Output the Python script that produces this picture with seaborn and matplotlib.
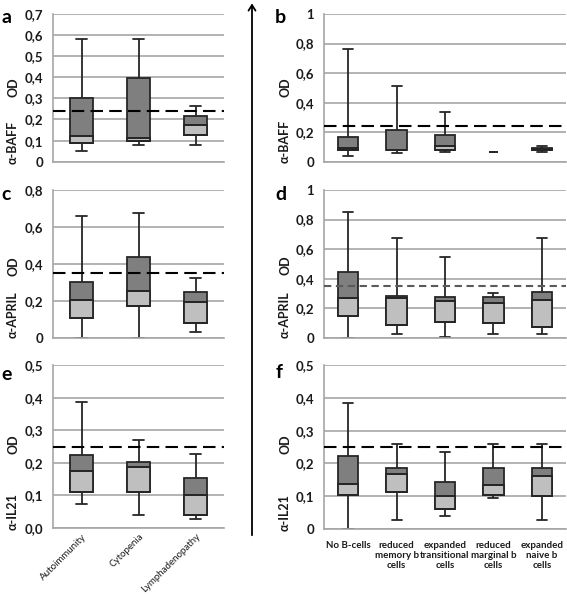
import numpy as np
import pandas as pd
import matplotlib
matplotlib.use("Agg")
import matplotlib.pyplot as plt
from matplotlib.patches import FancyArrowPatch
import seaborn as sns

sns.set_theme(style="white")
plt.rcParams['font.family'] = ['Lato', 'DejaVu Sans']

# ---------------- data ----------------
clinical = ["Autoimmunity", "Cytopenia", "Lymphadenopathy"]
bcell = ["No B-cells", "reduced\nmemory b\ncells", "expanded\ntransitional\ncells",
         "reduced\nmarginal b\ncells", "expanded\nnaive b\ncells"]

# five-number summaries per group: [min, Q1, median, Q3, max]
baff_clinical = [[0.050, 0.088, 0.120, 0.300, 0.580],
                 [0.080, 0.097, 0.114, 0.395, 0.580],
                 [0.080, 0.127, 0.172, 0.218, 0.263]]
baff_bcell = [[0.036, 0.076, 0.095, 0.169, 0.765],
              [0.061, 0.081, 0.081, 0.216, 0.510],
              [0.069, 0.081, 0.107, 0.178, 0.335],
              [0.068, 0.068, 0.068, 0.068, 0.068],
              [0.068, 0.080, 0.085, 0.090, 0.106]]
april_clinical = [[0.000, 0.109, 0.202, 0.301, 0.659],
                  [0.000, 0.172, 0.253, 0.439, 0.673],
                  [0.032, 0.077, 0.193, 0.247, 0.322]]
april_bcell = [[0.000, 0.147, 0.266, 0.442, 0.850],
               [0.025, 0.086, 0.269, 0.282, 0.677],
               [0.007, 0.108, 0.248, 0.273, 0.549],
               [0.025, 0.100, 0.232, 0.275, 0.302],
               [0.025, 0.072, 0.255, 0.311, 0.677]]
il21_clinical = [[0.074, 0.112, 0.176, 0.223, 0.386],
                 [0.041, 0.112, 0.186, 0.202, 0.270],
                 [0.029, 0.040, 0.100, 0.155, 0.227]]
il21_bcell = [[0.000, 0.103, 0.137, 0.223, 0.386],
              [0.027, 0.112, 0.167, 0.186, 0.259],
              [0.040, 0.061, 0.100, 0.142, 0.235],
              [0.094, 0.103, 0.133, 0.186, 0.259],
              [0.027, 0.100, 0.161, 0.186, 0.259]]

cutoff_baff = 0.24
cutoff_april = 0.35
cutoff_il21 = 0.25

ticks_a = ["0", "0,1", "0,2", "0,3", "0,4", "0,5", "0,6", "0,7"]
ticks_bd = ["0", "0,2", "0,4", "0,6", "0,8", "1"]
ticks_c = ["0", "0,2", "0,4", "0,6", "0,8"]
ticks_e = ["0,0", "0,1", "0,2", "0,3", "0,4", "0,5"]
ticks_f = ["0", "0,1", "0,2", "0,3", "0,4", "0,5"]

# ---------------- style ----------------
DARK = "#7f7f7f"
LIGHT = "#bfbfbf"
EDGE = "#262626"
GRID = "#a6a6a6"
W, H = 567, 594

fig = plt.figure(figsize=(W / 100, H / 100), dpi=100)


def rect(left, top, right, bottom):
    return [left / W, 1 - bottom / H, (right - left) / W, (bottom - top) / H]


def panel(ax, cats, summaries, cutoff, ticklabels, dash_color="black", dash=(6, 3)):
    full, low, const = [], [], []
    for c, s in zip(cats, summaries):
        mn, q1, md, q3, mx = s
        if mn == mx:
            const += [(c, v) for v in s]
            continue
        full += [(c, v) for v in s]
        low += [(c, v) for v in (q1, q1, q1, md, md)]
    common = dict(x="group", y="od", order=cats, whis=(0, 100), saturation=1,
                  linecolor=EDGE, linewidth=1.3, fliersize=0, ax=ax)
    sns.boxplot(data=pd.DataFrame(full, columns=["group", "od"]), width=0.42,
                color=DARK, **common)
    sns.boxplot(data=pd.DataFrame(low, columns=["group", "od"]), width=0.42,
                color=LIGHT, showcaps=False, **common)
    if const:
        sns.boxplot(data=pd.DataFrame(const, columns=["group", "od"]), width=0.17,
                    color=DARK, showcaps=False, **common)
    ax.axhline(cutoff, color=dash_color, lw=1.5, ls=(0, dash), zorder=5)
    vals = [float(t.replace(",", ".")) for t in ticklabels]
    ax.set_ylim(0, vals[-1])
    ax.set_yticks(vals)
    ax.set_yticklabels(ticklabels)
    ax.set_xlim(-0.5, len(cats) - 0.5)
    ax.yaxis.grid(True, color=GRID, lw=1.2)
    ax.xaxis.grid(False)
    ax.set_axisbelow(True)
    for sp in ["top", "right"]:
        ax.spines[sp].set_visible(False)
    for sp in ["left", "bottom"]:
        ax.spines[sp].set_color(GRID)
        ax.spines[sp].set_linewidth(1.2)
    ax.tick_params(axis="y", length=0, pad=7, labelsize=9.5, labelcolor="#1a1a1a")
    for t in ax.get_yticklabels():
        t.set_fontweight("bold")
    ax.tick_params(axis="x", length=0)
    ax.set_xlabel("")
    ax.set_ylabel("")


ax_a = fig.add_axes(rect(53, 14, 224, 161.7))
ax_b = fig.add_axes(rect(324, 14, 566, 161.7))
ax_c = fig.add_axes(rect(53, 190, 224, 337.7))
ax_d = fig.add_axes(rect(324, 190, 566, 337.7))
ax_e = fig.add_axes(rect(53, 365.3, 224, 528))
ax_f = fig.add_axes(rect(324, 365.3, 566, 528.7))

panel(ax_a, clinical, baff_clinical, cutoff_baff, ticks_a)
panel(ax_b, bcell, baff_bcell, cutoff_baff, ticks_bd)
panel(ax_c, clinical, april_clinical, cutoff_april, ticks_c)
panel(ax_d, bcell, april_bcell, cutoff_april, ticks_bd, dash_color="#5a5a5a", dash=(3.5, 2.2))
panel(ax_e, clinical, il21_clinical, cutoff_il21, ticks_e)
panel(ax_f, bcell, il21_bcell, cutoff_il21, ticks_f)

for ax in (ax_a, ax_b, ax_c, ax_d):
    ax.set_xticklabels([])

# bottom panels: boundary ticks and category labels
for ax, n in ((ax_e, 3), (ax_f, 5)):
    ax.set_xticks(np.arange(-0.5, n, 1.0), minor=True)
    ax.tick_params(axis="x", which="minor", length=4, width=1.0, color=GRID)

ax_e.set_xticks(range(len(clinical)))
ax_e.set_xticklabels(clinical, rotation=45, ha="right", va="top",
                     rotation_mode="anchor", fontsize=7, color="#1a1a1a")
ax_e.tick_params(axis="x", which="major", pad=3)

ax_f.set_xticks(range(len(bcell)))
ax_f.set_xticklabels(bcell, fontsize=7, fontweight="bold", color="#1a1a1a",
                     linespacing=1.15)
ax_f.tick_params(axis="x", which="major", pad=9)

# y-axis titles
ylabels = [("OD", 14, 87), ("α-BAFF", 13, 142), ("OD", 286, 87), ("α-BAFF", 285, 141),
           ("OD", 14, 266), ("α-APRIL", 13, 315), ("OD", 286, 265), ("α-APRIL", 285, 315),
           ("OD", 14, 444), ("α-IL21", 13, 512), ("OD", 286, 444), ("α-IL21", 285, 513)]
for txt, x, y in ylabels:
    fig.text(x / W, 1 - y / H, txt, rotation=90, ha="center", va="center",
             fontsize=9, fontweight="bold", color="#1a1a1a")

# panel letters
letters = [("a", 1, 23), ("b", 275, 23), ("c", 1, 200), ("d", 275, 200),
           ("e", 1, 380), ("f", 276, 378)]
for txt, x, y in letters:
    fig.text(x / W, 1 - y / H, txt, ha="left", va="baseline",
             fontsize=14, fontweight="bold", color="black")

# vertical arrow between the columns
arrow = FancyArrowPatch((252 / W, 1 - 538 / H), (252 / W, 0.999),
                        transform=fig.transFigure,
                        arrowstyle="->,head_length=4,head_width=2.5",
                        mutation_scale=1, lw=1.3, color="black")
fig.add_artist(arrow)

fig.savefig("out.png", dpi=100)
